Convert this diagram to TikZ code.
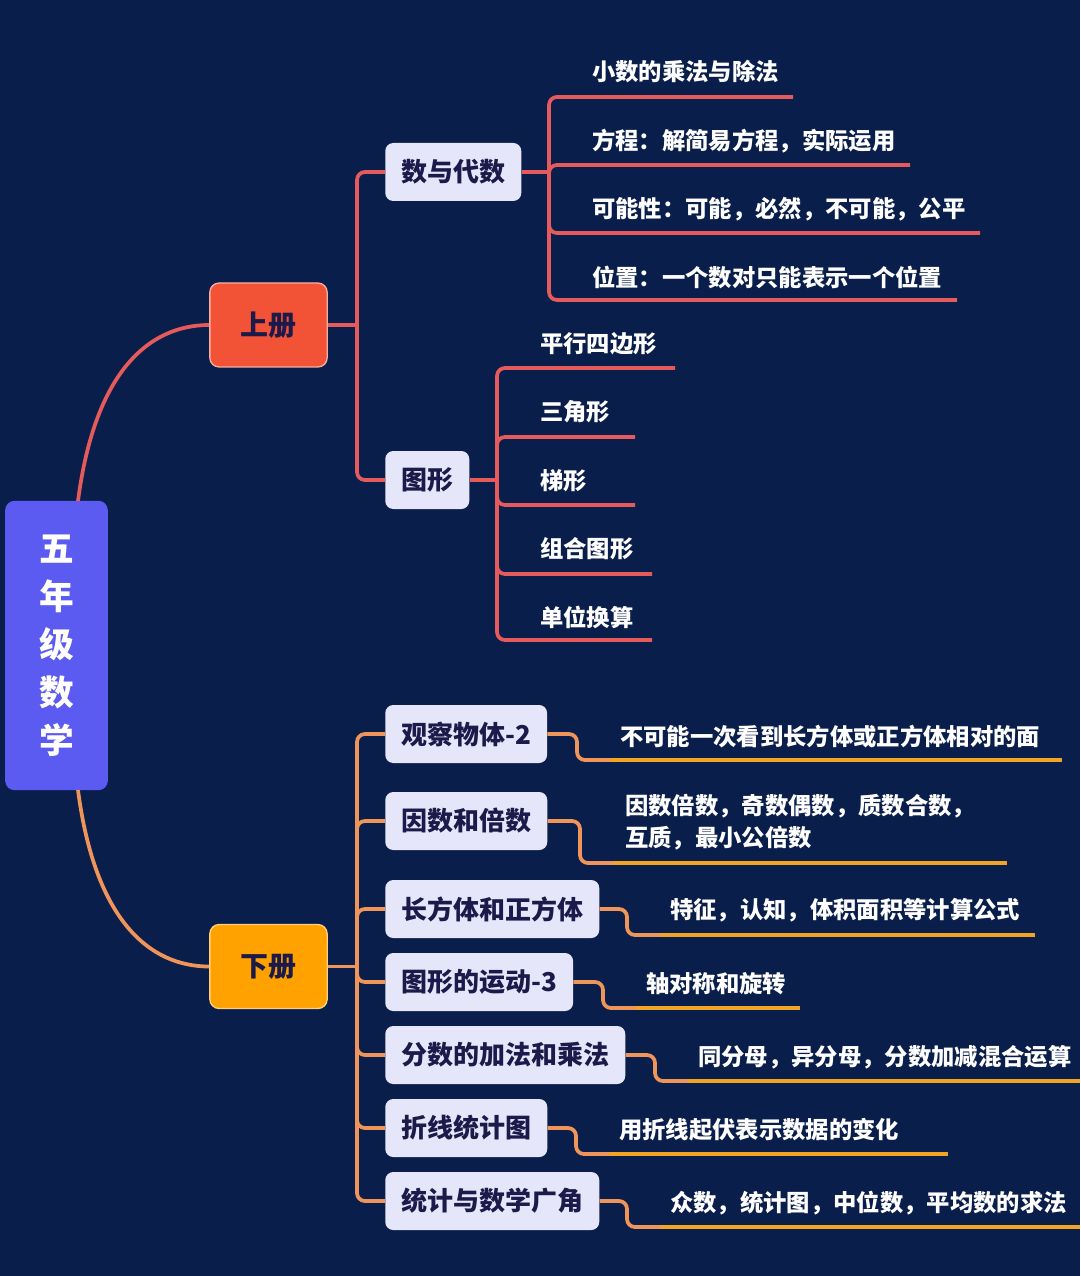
\documentclass[tikz,border=0pt]{standalone}
\usepackage{fontspec}
\setmainfont{Noto Sans CJK SC}
\definecolor{bg}{HTML}{0A1E4B}
\definecolor{redline}{HTML}{E55A5A}
\definecolor{orline}{HTML}{F0955A}
\definecolor{goldline}{HTML}{F2A424}
\definecolor{upfill}{HTML}{F25236}
\definecolor{upborder}{HTML}{F7B0A0}
\definecolor{downfill}{HTML}{FFA200}
\definecolor{downborder}{HTML}{FFD080}
\definecolor{lav}{HTML}{E6E6FA}
\definecolor{darktext}{HTML}{1C1A4A}
\definecolor{rootblue}{HTML}{5B5BF2}
\begin{document}
\begin{tikzpicture}[x=0.75pt,y=-0.75pt,
  rootbox/.style={fill=rootblue, rounded corners=7pt, text=white, align=center,
    font=\bfseries\fontsize{26}{36}\selectfont, minimum width=77pt, minimum height=217pt, inner sep=0pt},
  volbox/.style={rounded corners=7pt, line width=1pt, text=darktext,
    font=\bfseries\fontsize{21}{24}\selectfont, minimum width=88pt, minimum height=63pt, inner sep=0pt},
  topicbox/.style={fill=lav, rounded corners=6pt, text=darktext, anchor=west,
    font=\bfseries\fontsize{19.5}{22}\selectfont, minimum height=43.5pt, inner xsep=12pt, inner ysep=0pt},
  leaf/.style={text=white, anchor=west, align=left, inner sep=0pt,
    font=\bfseries\fontsize{17.5}{24}\selectfont},
  rl/.style={draw=redline, line width=2.8pt, rounded corners=6pt},
  ol/.style={draw=orline, line width=2.8pt, rounded corners=6pt},
  gl/.style={draw=goldline, line width=2.8pt},
]
\fill[bg] (0,0) rectangle (1080,1276);
\useasboundingbox (0,0) rectangle (1080,1276);

% root and volumes
\node[rootbox] (root) at (56.5,645.5) {五\\年\\级\\数\\学};
\node[volbox, fill=upfill, draw=upborder] (up) at (268.5,325) {上册};
\node[volbox, fill=downfill, draw=downborder] (down) at (268.5,966.5) {下册};

\draw[redline, line width=2.8pt] (78,501) .. controls (95,370) and (150,325) .. (up.west);
\draw[orline, line width=2.8pt] (78,790) .. controls (95,921) and (150,966.5) .. (down.west);

% upper topics
\node[topicbox] (a1) at (385,172) {数与代数};
\node[topicbox] (a2) at (385,480) {图形};
\draw[rl] (up.east) -- (357,325) coordinate (ju);
\draw[rl] (ju) |- (a1.west);
\draw[rl] (ju) |- (a2.west);

% leaves of a1
\draw[rl] (a1.east) -- (549,172) coordinate (j1);
\coordinate (e11) at (793,97);
\coordinate (e12) at (910,165);
\coordinate (e13) at (980,233);
\coordinate (e14) at (957,300);
\draw[rl] (j1) |- (e11);
\draw[rl] (j1) |- (e12);
\draw[rl] (j1) |- (e13);
\draw[rl] (j1) |- (e14);
\node[leaf] (l11) at (592,72) {小数的乘法与除法};
\node[leaf] (l12) at (592,141) {方程：解简易方程，实际运用};
\node[leaf] (l13) at (592,209) {可能性：可能，必然，不可能，公平};
\node[leaf] (l14) at (592,277) {位置：一个数对只能表示一个位置};

% leaves of a2
\draw[rl] (a2.east) -- (497,480) coordinate (j2);
\coordinate (e21) at (675,368);
\coordinate (e22) at (635,437);
\coordinate (e23) at (635,505);
\coordinate (e24) at (652,574);
\coordinate (e25) at (652,640);
\draw[rl] (j2) |- (e21);
\draw[rl] (j2) |- (e22);
\draw[rl] (j2) |- (e23);
\draw[rl] (j2) |- (e24);
\draw[rl] (j2) |- (e25);
\node[leaf] (l21) at (540,344) {平行四边形};
\node[leaf] (l22) at (540,412) {三角形};
\node[leaf] (l23) at (540,481) {梯形};
\node[leaf] (l24) at (540,549) {组合图形};
\node[leaf] (l25) at (540,617) {单位换算};

% lower topics
\node[topicbox] (b1) at (385,734) {观察物体-2};
\node[topicbox] (b2) at (385,821) {因数和倍数};
\node[topicbox] (b3) at (385,909) {长方体和正方体};
\node[topicbox] (b4) at (385,982) {图形的运动-3};
\node[topicbox] (b5) at (385,1055) {分数的加法和乘法};
\node[topicbox] (b6) at (385,1128) {折线统计图};
\node[topicbox] (b7) at (385,1201) {统计与数学广角};
\draw[ol] (down.east) -- (357,966.5) coordinate (jd);
\foreach \b in {b1,b2,b3,b4,b5,b6,b7} {\draw[ol] (jd) |- (\b.west);}

% lower leaves
\node[leaf] (m1) at (620,737) {不可能一次看到长方体或正方体相对的面};
\node[leaf] (m2) at (625,822) {因数倍数，奇数偶数，质数合数，\\互质，最小公倍数};
\node[leaf] (m3) at (670,910) {特征，认知，体积面积等计算公式};
\node[leaf] (m4) at (646,984) {轴对称和旋转};
\node[leaf] (m5) at (698,1057) {同分母，异分母，分数加减混合运算};
\node[leaf] (m6) at (619,1130) {用折线起伏表示数据的变化};
\node[leaf] (m7) at (670,1203) {众数，统计图，中位数，平均数的求法};

\coordinate (f1) at (1062,760);
\coordinate (f2) at (1007,863);
\coordinate (f3) at (1035,935);
\coordinate (f4) at (800,1008);
\coordinate (f5) at (1080,1081);
\coordinate (f6) at (948,1154);
\coordinate (f7) at (1080,1227);

\draw[ol] (b1.east) -- (577,734) |- (610,760) coordinate (g1);
\draw[ol] (b2.east) -- (580,821) |- (613,863) coordinate (g2);
\draw[ol] (b3.east) -- (627,909) |- (660,935) coordinate (g3);
\draw[ol] (b4.east) -- (603,982) |- (636,1008) coordinate (g4);
\draw[ol] (b5.east) -- (655,1055) |- (688,1081) coordinate (g5);
\draw[ol] (b6.east) -- (576,1128) |- (609,1154) coordinate (g6);
\draw[ol] (b7.east) -- (627,1201) |- (660,1227) coordinate (g7);
\foreach \i in {1,...,7} {\draw[gl] (g\i) -- (f\i);}
\end{tikzpicture}
\end{document}
